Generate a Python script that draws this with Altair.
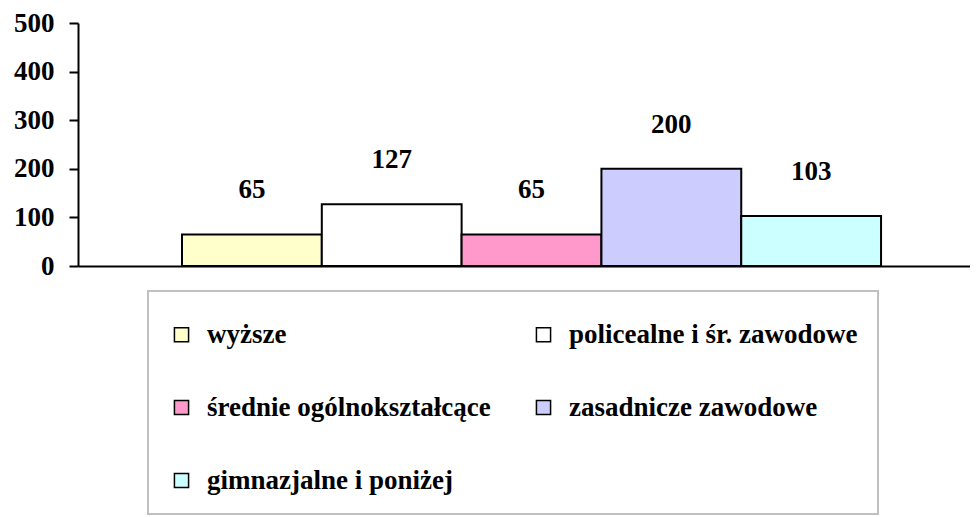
import altair as alt
import pandas as pd

categories = ["wyższe", "policealne i śr. zawodowe", "średnie ogólnokształcące",
              "zasadnicze zawodowe", "gimnazjalne i poniżej"]
values = [65, 127, 65, 200, 103]
colors = ["#FFFFCC", "#FFFFFF", "#FF99CC", "#CCCCFF", "#CCFFFF"]
y_ticks = [0, 100, 200, 300, 400, 500]

df = pd.DataFrame({"cat": categories, "val": values})
FONT = "Times New Roman, Liberation Serif, serif"

x = alt.X("cat:N", sort=categories,
          scale=alt.Scale(paddingInner=0, paddingOuter=0.69, align=0.539),
          axis=alt.Axis(labels=False, ticks=False, title=None, domainColor="black",
                        domainWidth=2, grid=False))
y = alt.Y("val:Q", scale=alt.Scale(domain=[0, 500], nice=False),
          axis=alt.Axis(values=y_ticks, title=None, grid=False, domainColor="black",
                        domainWidth=2, ticks=True, tickColor="black", tickWidth=2,
                        tickSize=9, labelPadding=15, labelFont=FONT,
                        labelFontWeight="bold", labelFontSize=27, labelColor="black"))

bars = alt.Chart(df).mark_bar(stroke="black", strokeWidth=2).encode(
    x=x, y=y,
    fill=alt.Fill("cat:N", sort=categories,
                  scale=alt.Scale(domain=categories, range=colors),
                  legend=alt.Legend(title=" ", titleFontSize=10, titlePadding=0,
                                    orient="none", legendX=70, legendY=268,
                                    direction="horizontal",
                                    columns=2, columnPadding=39, rowPadding=45,
                                    padding=20, strokeColor="#c0c0c0",
                                    symbolType="square", symbolSize=200,
                                    symbolStrokeColor="black", symbolStrokeWidth=1.5,
                                    labelOffset=12, labelFont=FONT,
                                    labelFontWeight="bold", labelFontSize=27,
                                    labelColor="black", labelLimit=500))
)

labels = alt.Chart(df).mark_text(dy=-44, font=FONT, fontWeight="bold", fontSize=27,
                                 color="black", baseline="middle").encode(
    x=alt.X("cat:N", sort=categories), y="val:Q", text="val:Q")

chart = (bars + labels).properties(
    width=892, height=243,
    padding={"left": 70, "top": 15, "right": 0, "bottom": 251},
    autosize=alt.AutoSizeParams(type="none"),
).configure_view(stroke=None).configure_legend(strokeWidth=2)

chart.save("out.html", embed_options={"renderer": "svg", "actions": False})
